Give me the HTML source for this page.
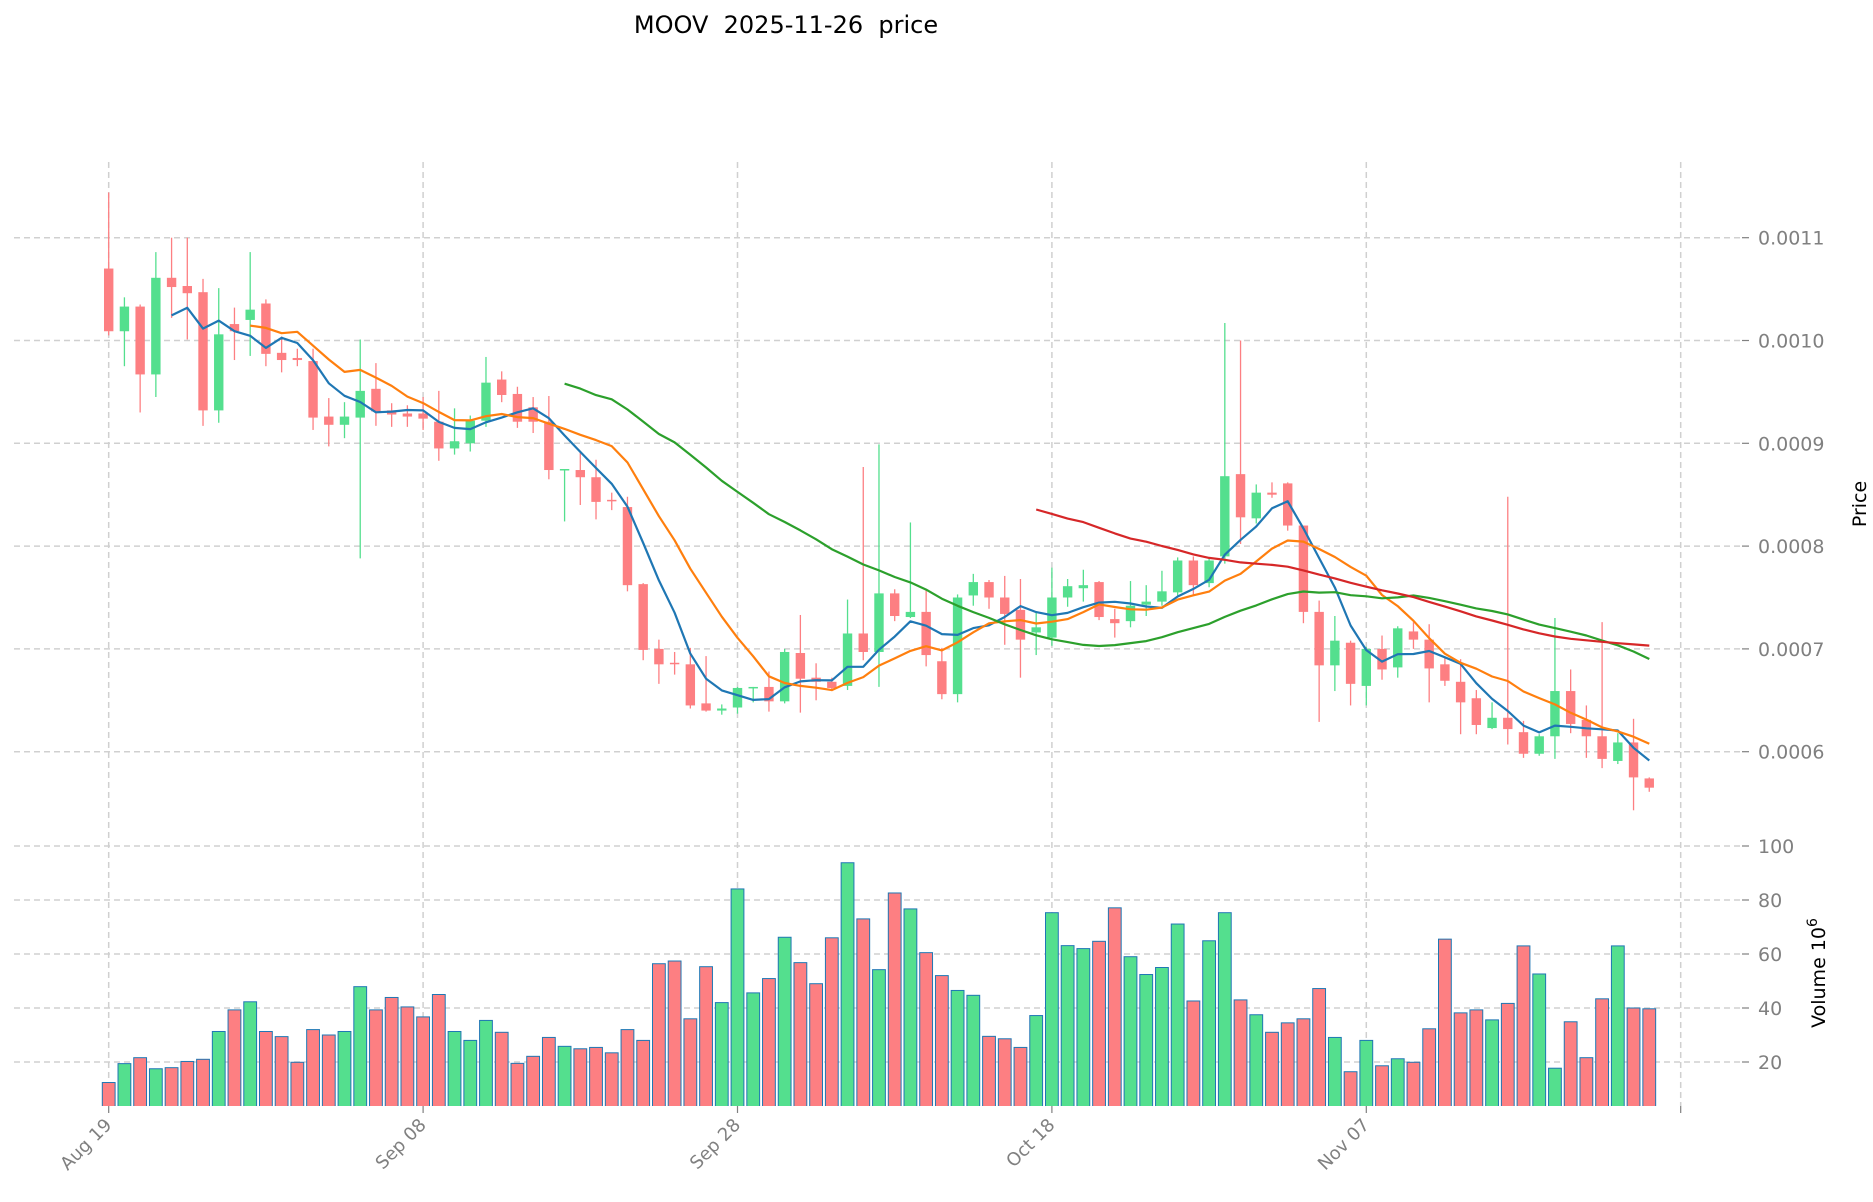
<!DOCTYPE html>
<html><head><meta charset="utf-8"><style>
html,body{margin:0;padding:0;background:#fff;}
svg{display:block;font-family:"DejaVu Sans","Liberation Sans",sans-serif;}
</style></head><body>
<svg id="chart" width="1873" height="1202" viewBox="0 0 1873 1202" xmlns="http://www.w3.org/2000/svg">
<text x="786" y="33" font-size="24" text-anchor="middle" fill="#000" style="white-space:pre" xml:space="preserve">MOOV  2025-11-26  price</text>
<defs><clipPath id="volclip"><rect x="0" y="800" width="1873" height="306"/></clipPath></defs>
<g id="grid"></g>
<g id="vol" clip-path="url(#volclip)"></g>
<g id="candles"></g>
<g id="mas"></g>
<g id="axes"></g>
<text transform="translate(1866,504) rotate(-90)" font-size="19" text-anchor="middle" fill="#000">Price</text>
<text transform="translate(1825,973) rotate(-90)" font-size="19" text-anchor="middle" fill="#000">Volume  10<tspan dy="-8" font-size="14">6</tspan></text>
</svg>
<script>
const opens=[1070,1009,1033,967,1061,1053,1047,932,1016,1020,1036,988,983,980,926,918,925,953,932,929,929,921,895,900,922,962,948,935,921,874,874,867,845,838,763,700,686.5,685,647,640,643,662,663,649,696,672,668,664,715,697,754,731,736,688,656,752,765,750,738,716,711,750,759,765,729,727,743,746,755,786,764,790,870,827,852,861,820,736,684,706,664,700,682,717,709,685,668,652,623,633,619,598,615,659,631,615,591,609,574];
const closes=[1009,1033,967,1061,1052,1046,932,1006,1009,1030,987,981,981,925,918,926,951,931,928,926,924,895,902,922,959,947,921,921,874,875,867,843,844,762,699,685,686,645,640,642,662,663,649,697,671,668,662,715,697,754,732,736,694,656,750,765,750,734,709,721,750,761,762,731,725,742,746,756,786,762,786,868,828,852,850,820,736,684,708,666,700,680,720,709,681,669,648,626,633,622,598,615,659,627,615,593,609,575,565];
const highs=[1144,1042,1035,1086,1100,1100,1060,1051,1032,1086,1040,1004,992,992,944,940,1001,978,939,937,945,951,934,927,984,970,955,945,946,875,891,884,852,848,764,709,697,701,693,646,663,663,678,700,733,686,672,748,877,899,758,823,758,701,753,773,767,771,768,735,779,768,777,766,739,766,762,776,789,790,788,1017,1000,860,862,862,820,747,732,708,702,713,722,726,724,692,690,660,648,848,630,617,730,680,645,726,618,632,575];
const lows=[1005,975,930,945,1022,1001,917,920,981,985,975,969,975,913,897,905,788,917,916,916,913,883,889,892,916,940,915,910,865,824,840,826,835,756,689,666,675,642,639,636,637,648,639,647,638,650,659,660,689,663,727,730,683,651,648,742,739,704,672,694,703,741,746,728,711,721,732,742,752,752,760,783,802,822,847,815,725,629,659,645,645,670,672,700,648,664,617,617,622,607,594,596,593,618,594,584,588,543,561];
const volumes=[12.4,19.4,21.6,17.5,17.9,20.2,21,31.3,39.3,42.3,31.3,29.4,19.9,32,30,31.3,47.9,39.3,43.9,40.4,36.7,45,31.3,28,35.4,31,19.5,22.1,29.1,25.8,24.9,25.4,23.4,32,28,56.4,57.4,36,55.3,42,84.1,45.6,50.9,66.2,56.8,49,66,93.8,73,54.2,82.6,76.7,60.5,52,46.5,44.7,29.5,28.6,25.4,37.2,75.3,63.1,62,64.7,77.1,59,52.4,55,71.1,42.6,64.9,75.3,43,37.5,31,34.5,36,47.2,29.1,16.4,28,18.6,21.2,19.9,32.3,65.5,38.2,39.3,35.6,41.7,63,52.6,17.7,34.9,21.6,43.4,63,40,39.7];
const priceTicks=[0.0006,0.0007,0.0008,0.0009,0.0010,0.0011];
const priceTickLabels=["0.0006","0.0007","0.0008","0.0009","0.0010","0.0011"];
const volTicks=[20,40,60,80,100];
const dateTickIdx=[0,20,40,60,80,100];
const dateTickLabels=["Aug 19","Sep 08","Sep 28","Oct 18","Nov 07",""];
const maPeriods=[5,10,30,60];
const maColors=["#1f77b4","#ff7f0e","#2ca02c","#d62728"];
const PSCALE=1e-6;

const NS="http://www.w3.org/2000/svg";
const X0=108.7, DX=15.72, L=14, R=1742, VB=1106;
const xS=i=>X0+i*DX;
const yP=p=>237.7+(0.0011-p)*1.028e6;
const yV=v=>1116-v*2.7;
function mk(tag,attrs,parent){const e=document.createElementNS(NS,tag);for(const k in attrs)e.setAttribute(k,attrs[k]);parent.appendChild(e);return e;}
const G=document.getElementById('grid'),V=document.getElementById('vol'),C=document.getElementById('candles'),M=document.getElementById('mas'),A=document.getElementById('axes');
const GREEN="#54df8e",RED="#fd7f82";

dateTickIdx.forEach((d,k)=>{
  const x=xS(d);
  const l=mk('line',{x1:x,x2:x,y1:162,y2:VB,stroke:"#d0d0d0","stroke-width":1.5,"stroke-dasharray":"6,4"},G);
  
  
  const t=mk('line',{x1:x,x2:x,y1:VB,y2:VB+7,stroke:"#808080","stroke-width":1.2},A);
  
  
  if(dateTickLabels[k]){
    const tx=mk('text',{transform:`translate(${x+4},${VB+20}) rotate(-45)`,"font-size":18,fill:"#808080","text-anchor":"end"},A);
    tx.textContent=dateTickLabels[k];
    
    
  }
});
priceTicks.forEach((p,k)=>{
  const y=yP(p);
  const l=mk('line',{x1:L,x2:R,y1:y,y2:y,stroke:"#d0d0d0","stroke-width":1.5,"stroke-dasharray":"6,4"},G);
  
  
  mk('line',{x1:R,x2:R+7,y1:y,y2:y,stroke:"#808080","stroke-width":1.2},A);
  const t=mk('text',{x:1758,y:y+7,"font-size":19,fill:"#808080"},A);
  t.textContent=priceTickLabels[k];
  
  
});
volTicks.forEach(v=>{
  const y=yV(v);
  const l=mk('line',{x1:L,x2:R,y1:y,y2:y,stroke:"#d0d0d0","stroke-width":1.5,"stroke-dasharray":"6,4"},G);
  
  
  mk('line',{x1:R,x2:R+7,y1:y,y2:y,stroke:"#808080","stroke-width":1.2},A);
  const t=mk('text',{x:1758,y:y+7,"font-size":19,fill:"#808080"},A);
  t.textContent=String(v);
  
  
});

volumes.forEach((v,i)=>{
  const up=closes[i]>=opens[i];
  const y=yV(v);
  const r=mk('rect',{x:xS(i)-6.4,y:y,width:12.8,height:1116-y,fill:up?GREEN:RED,stroke:"#1f77b4","stroke-width":1},V);
  
  
});

opens.forEach((o,i)=>{
  const c=closes[i],up=c>=o,col=up?GREEN:RED,x=xS(i);
  const w=mk('line',{x1:x,x2:x,y1:yP(highs[i]*PSCALE),y2:yP(lows[i]*PSCALE),stroke:col,"stroke-width":1.3},C);
  
  
  const yt=yP(Math.max(o,c)*PSCALE),yb=yP(Math.min(o,c)*PSCALE);
  const b=mk('rect',{x:x-4.7,y:yt,width:9.4,height:Math.max(1.5,yb-yt),fill:col},C);
  
  
});

maPeriods.forEach((n,k)=>{
  const pts=[];
  for(let i=n-1;i<closes.length;i++){
    let s=0;for(let j=i-n+1;j<=i;j++)s+=closes[j];
    pts.push(xS(i).toFixed(1)+","+yP(s/n*PSCALE).toFixed(1));
  }
  const pl=mk('polyline',{points:pts.join(" "),fill:"none",stroke:maColors[k],"stroke-width":2.2,"stroke-linejoin":"round"},M);
  
  
});
</script>
</body></html>
